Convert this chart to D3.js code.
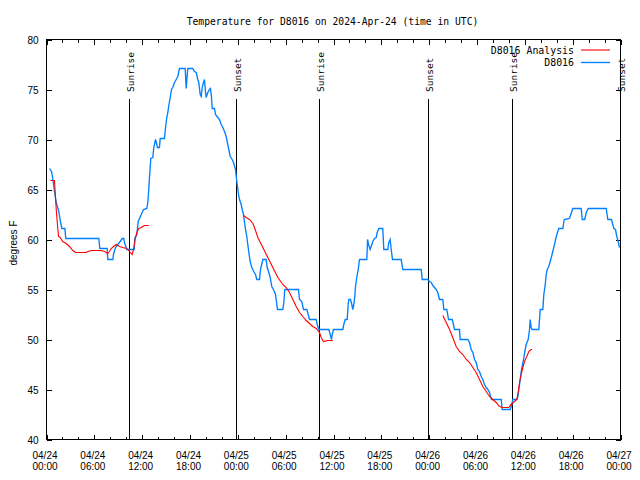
<!DOCTYPE html>
<html><head><meta charset="utf-8">
<script src="https://cdn.jsdelivr.net/npm/d3@7"></script>
<style>body{margin:0;background:#fff}</style>
</head><body><svg id="c" width="640" height="480"></svg>
<script>
const chartTitle = "Temperature for D8016 on 2024-Apr-24 (time in UTC)";
const yLabel = "degrees F";
const seriesNames = ["D8016 Analysis", "D8016"];
const seriesColors = ["#ff0000", "#0080ff"];
const yTicks = [40,45,50,55,60,65,70,75,80];
const startUTC = Date.UTC(2024,3,24,0,0);
const endUTC = Date.UTC(2024,3,27,0,0);
const sunLabels = ["Sunrise","Sunset","Sunrise","Sunset","Sunrise","Sunset"];
const sunHours = [10.31, 23.71, 34.24, 47.88, 58.37, 71.96];

// Observed D8016 (hours since 04/24 00:00 UTC)
const obsHours = [0.38,0.63,0.79,1.00,1.22,1.54,1.79,1.92,2.30,2.42,6.56,6.69,7.61,7.69,8.32,8.40,8.66,8.94,9.24,9.50,9.70,9.78,10.00,10.07,11.00,11.08,11.33,11.50,11.67,12.00,12.17,12.58,12.71,12.83,12.92,13.01,13.08,13.33,13.46,13.67,13.84,13.92,14.17,14.26,14.80,14.93,15.09,15.22,15.34,15.52,15.68,15.84,16.06,16.27,16.47,16.68,17.40,17.52,17.72,18.35,18.56,18.78,18.98,19.10,19.28,19.41,19.53,19.69,19.82,19.95,20.03,20.23,20.45,20.57,20.70,20.79,21.07,21.20,21.49,21.70,21.91,22.12,22.33,22.54,22.74,22.87,23.04,23.29,23.46,23.71,23.80,23.92,24.05,24.21,24.42,24.55,24.71,24.84,24.96,25.13,25.25,25.38,25.55,25.75,26.00,26.22,26.38,26.72,26.84,27.06,27.13,27.56,27.68,27.85,28.06,28.26,28.47,28.73,28.89,28.98,29.64,29.77,29.89,31.61,31.74,32.02,32.24,32.65,32.83,32.99,33.83,33.96,34.16,35.41,35.59,35.75,35.84,36.00,37.17,37.29,37.47,37.72,37.84,37.92,38.13,38.30,38.42,38.55,38.67,38.76,38.92,39.10,39.26,40.18,40.27,40.39,40.60,40.73,40.93,41.14,41.36,41.48,41.68,42.18,42.31,42.81,42.94,43.11,43.24,43.40,44.49,44.69,47.00,47.13,47.83,48.04,48.26,48.46,48.67,48.88,49.08,49.30,49.71,49.84,50.21,50.43,50.89,51.05,51.18,51.81,51.89,52.85,53.06,53.27,53.48,53.69,53.90,54.10,54.31,54.53,54.73,54.94,55.16,55.36,55.57,55.82,57.04,57.16,58.17,58.37,58.49,58.99,59.12,59.25,59.42,59.58,59.84,60.00,60.17,60.42,60.59,60.67,60.80,60.92,61.75,61.93,62.26,62.38,62.56,62.68,62.81,63.01,63.18,63.35,63.51,63.72,63.94,64.14,64.26,64.77,64.94,65.60,65.85,66.02,67.07,67.20,67.52,67.70,67.95,70.21,70.41,70.87,71.04,71.16,71.37,71.54,71.71,71.87];
const obsTemps = [67.1,66.8,66.1,64.8,63.7,62.8,61.6,61.1,61.1,60.1,60.1,59.1,59.1,58.0,58.0,58.5,59.2,59.5,59.8,60.1,60.1,59.7,59.2,59.0,59.0,60.1,60.5,61.8,62.1,62.7,63.0,63.1,63.7,65.0,66.3,67.2,68.1,68.2,69.2,70.0,69.5,69.2,69.2,70.1,70.1,71.2,72.2,72.7,73.4,74.2,75.0,75.2,75.7,76.0,76.3,77.1,77.1,75.1,77.1,77.1,76.8,76.7,76.0,75.7,74.5,74.3,75.2,75.7,76.0,74.7,74.2,74.7,75.0,75.1,74.2,73.1,73.1,72.5,72.2,72.0,71.5,71.2,70.8,70.3,69.5,69.0,68.3,68.0,67.7,67.0,66.3,65.5,64.7,64.0,63.5,63.0,62.5,61.7,61.0,60.3,59.5,58.7,57.8,57.2,56.8,56.5,56.0,56.0,57.0,57.7,58.0,58.0,57.2,56.8,56.2,55.3,55.0,54.5,53.5,53.0,53.0,53.7,55.0,55.0,54.0,53.8,53.0,53.0,52.5,52.0,52.0,51.5,51.0,51.0,50.5,50.0,50.5,51.0,51.0,51.5,52.0,52.0,53.5,54.0,54.0,53.5,53.0,53.5,54.3,55.3,56.2,57.0,58.0,58.0,60.0,59.5,59.0,59.3,59.8,60.1,60.2,60.7,61.1,61.1,59.0,59.0,59.7,60.0,59.0,58.0,58.0,57.0,57.0,56.0,56.0,55.8,55.7,55.4,55.2,55.0,54.7,54.0,54.0,53.0,53.0,52.0,52.0,51.5,51.0,51.0,50.0,50.0,49.7,49.0,48.7,48.0,47.7,47.0,46.8,46.3,46.0,45.5,45.2,45.0,44.7,44.0,44.0,43.0,43.0,43.5,44.0,44.0,44.3,45.0,46.0,47.0,48.0,48.8,49.5,50.0,51.0,52.0,51.2,51.0,51.0,53.0,53.0,54.5,55.5,56.5,57.0,57.3,57.8,58.3,58.8,59.5,60.3,60.8,61.1,61.1,62.0,62.1,62.7,63.1,63.1,62.0,62.0,62.7,63.1,63.1,62.0,62.0,61.5,61.1,61.0,60.3,59.8,59.2];

// D8016 Analysis (null = gap between runs)
const anaHours = [0.50,1.00,1.09,1.22,1.34,1.51,1.72,2.04,2.47,2.89,3.30,3.64,4.98,5.18,5.61,6.86,7.28,7.69,7.90,8.12,8.40,8.74,9.16,9.57,10.07,10.41,10.75,10.91,11.16,11.38,11.58,11.88,12.29,12.83,
  null,
  24.71,25.05,25.46,25.68,25.88,26.09,26.51,27.14,27.76,28.39,29.02,29.64,30.07,30.48,30.90,31.32,31.74,32.15,32.58,32.99,33.40,33.83,34.24,34.46,34.75,35.29,35.91,
  null,
  49.71,50.14,50.55,50.96,51.39,51.81,52.22,52.65,53.06,53.48,53.90,54.31,54.73,55.16,55.57,55.98,56.41,56.82,57.24,57.99,58.28,58.70,58.99,59.16,59.33,59.54,59.75,59.96,60.25,60.50,60.80,60.92];
const anaTemps = [65.9,65.9,64.7,63.0,61.8,60.3,60.2,59.8,59.6,59.3,58.9,58.7,58.7,58.8,58.9,58.9,58.8,58.6,58.8,59.1,59.3,59.5,59.3,59.2,59.1,58.8,58.5,59.0,60.2,60.8,61.1,61.2,61.4,61.4,
  null,
  62.4,62.2,62.0,61.8,61.6,61.2,60.2,59.2,58.2,57.2,56.2,55.5,55.2,54.7,54.0,53.3,52.7,52.3,51.9,51.6,51.3,51.1,50.7,50.2,49.8,49.9,49.9,
  null,
  52.4,51.7,51.0,50.2,49.3,48.8,48.5,48.0,47.7,47.2,46.7,46.0,45.3,44.8,44.3,44.0,43.7,43.3,43.2,43.2,43.5,43.8,44.0,44.7,45.7,46.5,47.2,47.8,48.3,48.8,49.0,49.0];

const toDate = h => new Date(startUTC + h * 3600000);
const obs = obsHours.map((h,i) => ({t: toDate(h), v: obsTemps[i]}));
const ana = anaHours.map((h,i) => ({t: h == null ? null : toDate(h), v: anaTemps[i]}));

const svg = d3.select("#c");
const L = 46.5, R = 620.5, T = 39.5, B = 439.5;
const x = d3.scaleUtc().domain([new Date(startUTC), new Date(endUTC)]).range([L, R]);
const y = d3.scaleLinear().domain([40, 80]).range([B, T]);

const mono = "'DejaVu Sans Mono', monospace";
const sans = "'Liberation Sans', Arial, sans-serif";

svg.append("rect").attr("width",640).attr("height",480).attr("fill","#fff");

// title
svg.append("text").attr("x", 332.5).attr("y", 21).attr("text-anchor","middle")
  .attr("dominant-baseline","central").style("font-family", mono).style("font-size","9.7px")
  .text(chartTitle);

// minor x ticks bottom/top
const minorB = d3.axisBottom(x).ticks(d3.utcHour.every(2)).tickSize(-3).tickFormat("");
const minorT = d3.axisTop(x).ticks(d3.utcHour.every(2)).tickSize(-3).tickFormat("");
svg.append("g").attr("transform",`translate(0,${B})`).call(minorB).call(g=>g.select(".domain").remove());
svg.append("g").attr("transform",`translate(0,${T})`).call(minorT).call(g=>g.select(".domain").remove());

// major x ticks
const fmtD = d3.utcFormat("%m/%d"), fmtT = d3.utcFormat("%H:%M");
const xAxis = d3.axisBottom(x).ticks(d3.utcHour.every(6)).tickSize(-5).tickPadding(0);
svg.append("g").attr("transform",`translate(0,${B})`).call(xAxis)
  .call(g=>g.select(".domain").remove())
  .call(g=>g.selectAll(".tick text").each(function(d){
    const t = d3.select(this);
    t.text(null).attr("dy", null).attr("y", null)
      .style("font-family", sans).style("font-size","10px").attr("fill","#000");
    t.append("tspan").attr("x", -2).attr("y", 16).attr("dy","0.35em").text(fmtD(d));
    t.append("tspan").attr("x", -2).attr("y", 27).attr("dy","0.35em").text(fmtT(d));
  }));
svg.append("g").attr("transform",`translate(0,${T})`)
  .call(d3.axisTop(x).ticks(d3.utcHour.every(6)).tickSize(-5).tickFormat(""))
  .call(g=>g.select(".domain").remove());

// y axes
svg.append("g").attr("transform",`translate(${L},0)`)
  .call(d3.axisLeft(y).tickValues(yTicks).tickSize(-5).tickPadding(8).tickFormat(d3.format("d")))
  .call(g=>g.select(".domain").remove())
  .call(g=>g.selectAll(".tick text").attr("dy","0.4em").style("font-family", sans).style("font-size","10px").attr("fill","#000"));
svg.append("g").attr("transform",`translate(${R},0)`)
  .call(d3.axisRight(y).tickValues(yTicks).tickSize(-5).tickFormat(""))
  .call(g=>g.select(".domain").remove());

svg.selectAll(".tick line").attr("stroke","#000").attr("shape-rendering","crispEdges");

// y label
svg.append("text").attr("transform","translate(13,243) rotate(-90)").attr("text-anchor","middle")
  .attr("dominant-baseline","central").style("font-family", sans).style("font-size","10px").text(yLabel);

// sun lines
const sun = sunHours.map((h,i)=>({t: toDate(h), label: sunLabels[i]}));
svg.append("g").selectAll("line").data(sun).join("line")
  .attr("x1", d=>Math.round(x(d.t))+0.5).attr("x2", d=>Math.round(x(d.t))+0.5)
  .attr("y1", 99).attr("y2", B).attr("stroke","#000").attr("stroke-width",1)
  .attr("shape-rendering","crispEdges");
svg.append("g").selectAll("text").data(sun).join("text")
  .attr("transform", d=>`translate(${Math.round(x(d.t))+1.5},92) rotate(-90)`)
  .attr("text-anchor","start").attr("dominant-baseline","central")
  .style("font-family", mono).style("font-size","9.5px").text(d=>d.label);

// series lines
const line = d3.line().defined(d=>d.t!=null && d.v!=null).x(d=>x(d.t)).y(d=>y(d.v));
svg.append("path").datum(obs).attr("d", line).attr("fill","none")
  .attr("stroke", seriesColors[1]).attr("stroke-width",1.35).attr("stroke-linejoin","miter");
svg.append("path").datum(ana).attr("d", line).attr("fill","none")
  .attr("stroke", seriesColors[0]).attr("stroke-width",1.1);

// frame
svg.append("rect").attr("x",L).attr("y",T).attr("width",R-L).attr("height",B-T)
  .attr("fill","none").attr("stroke","#000").attr("stroke-width",1).attr("shape-rendering","crispEdges");

// legend
const leg = svg.append("g");
seriesNames.forEach((n,i)=>{
  const yy = 50 + i*12.5;
  leg.append("text").attr("x",574).attr("y",yy).attr("text-anchor","end")
    .attr("dominant-baseline","central").style("font-family", mono).style("font-size","9.9px").text(n);
  leg.append("line").attr("x1",581).attr("x2",610).attr("y1",yy).attr("y2",yy)
    .attr("stroke", seriesColors[i]).attr("stroke-width", i==0?1.1:1.35);
});
</script></body></html>
